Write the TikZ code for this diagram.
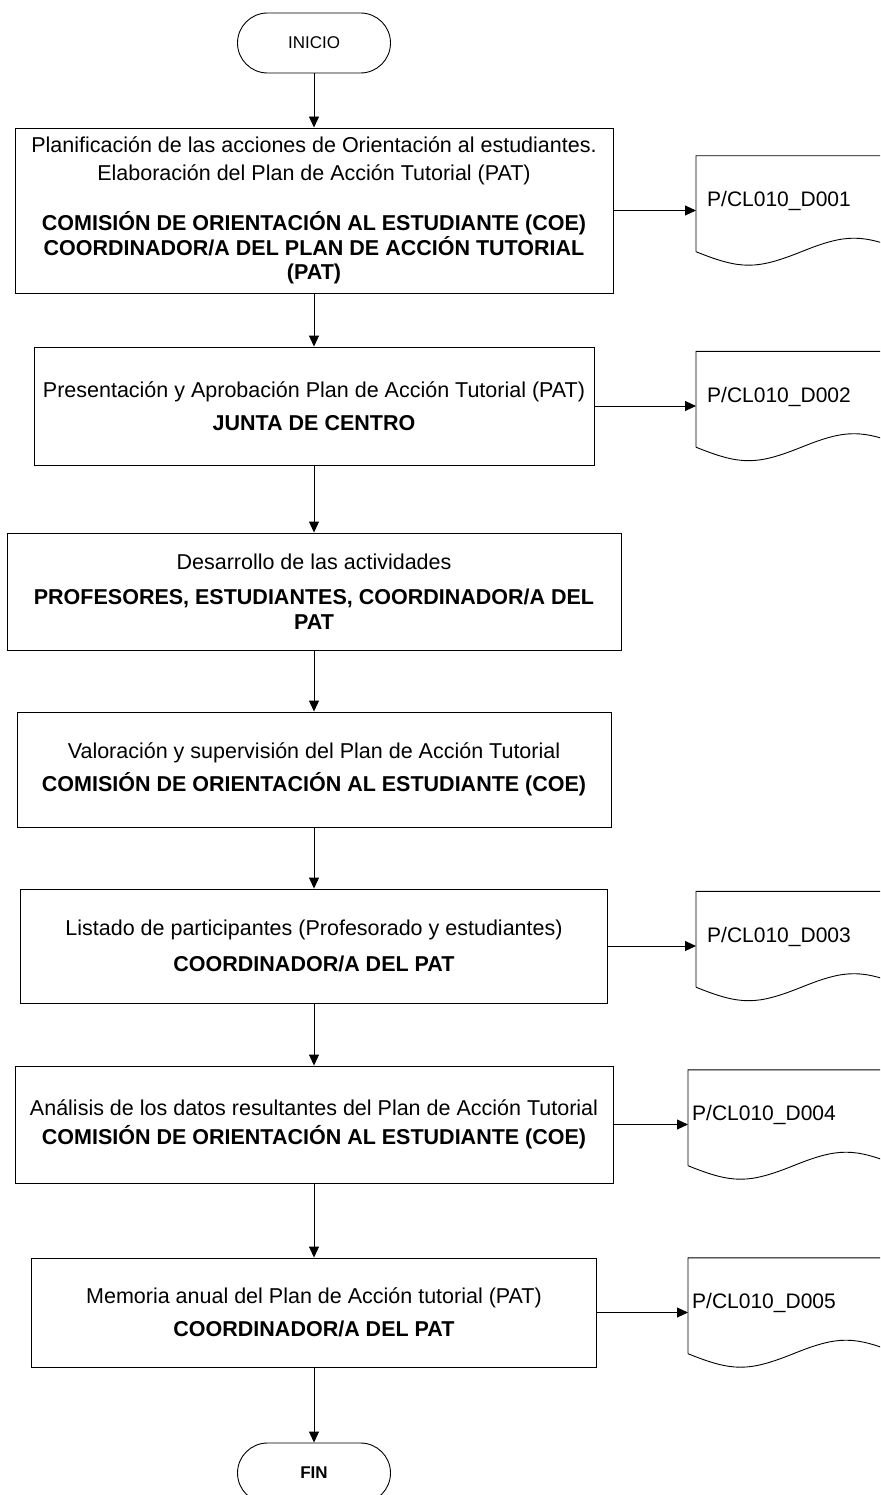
\documentclass[tikz,border=0pt]{standalone}
\usepackage{fontspec}
\setmainfont{Liberation Sans}
\usetikzlibrary{arrows.meta}
\newcommand\docoutline[1]{%
  \draw[line] ([yshift=13.5pt]#1.south west) -- (#1.north west) -- (#1.north east) -- ([yshift=13.5pt]#1.south east)
    .. controls ([xshift=-44.6pt,yshift=31.5pt]#1.south east) and ([xshift=-60.4pt,yshift=31.5pt]#1.south east) .. ([xshift=-105pt,yshift=13.5pt]#1.south east)
    .. controls ([xshift=60.4pt,yshift=-4.5pt]#1.south west) and ([xshift=44.6pt,yshift=-4.5pt]#1.south west) .. ([yshift=13.5pt]#1.south west);}
\begin{document}
\begin{tikzpicture}[x=1pt,y=-1pt,
  line/.style={draw=black, line width=0.9pt},
  arr/.style={line, -{Triangle[length=11pt,width=10pt]}},
  term/.style={draw, line width=0.9pt, rounded corners=30pt, minimum width=153pt, minimum height=60pt, inner sep=0pt, font=\fontsize{17}{20}\selectfont},
  proc/.style={draw, line width=0.9pt, inner sep=0pt, align=center, font=\fontsize{21.5}{24.5}\selectfont},
  docnode/.style={minimum width=210pt, minimum height=109pt, inner sep=0pt, text width=210pt, align=left, anchor=west, font=\fontsize{21}{24}\selectfont},
]
\useasboundingbox (0,0) rectangle (880,1495);
\clip (0,0) rectangle (880,1495);

\node[term] (ini) at (314,43) {INICIO};

\node[proc, minimum width=598pt, minimum height=165pt] (b1) at (314,210.5)
  {Planificación de las acciones de Orientación al estudiantes.\\[3pt]
   Elaboración del Plan de Acción Tutorial (PAT)\\[26pt]
   \textbf{COMISIÓN DE ORIENTACIÓN AL ESTUDIANTE (COE)}\\
   \textbf{COORDINADOR/A DEL PLAN DE ACCIÓN TUTORIAL}\\
   \textbf{(PAT)}};

\node[proc, minimum width=560pt, minimum height=118pt] (b2) at (314,406)
  {Presentación y Aprobación Plan de Acción Tutorial (PAT)\\[8pt]
   \textbf{JUNTA DE CENTRO}};

\node[proc, minimum width=614pt, minimum height=117pt] (b3) at (314,591.5)
  {Desarrollo de las actividades\\[11pt]
   \textbf{PROFESORES, ESTUDIANTES, COORDINADOR/A DEL}\\
   \textbf{PAT}};

\node[proc, minimum width=594pt, minimum height=115pt] (b4) at (314,769.5)
  {Valoración y supervisión del Plan de Acción Tutorial\\[8pt]
   \textbf{COMISIÓN DE ORIENTACIÓN AL ESTUDIANTE (COE)}};

\node[proc, minimum width=587pt, minimum height=114pt] (b5) at (314,946)
  {Listado de participantes (Profesorado y estudiantes)\\[11pt]
   \textbf{COORDINADOR/A DEL PAT}};

\node[proc, minimum width=598pt, minimum height=117pt] (b6) at (314,1124.5)
  {Análisis de los datos resultantes del Plan de Acción Tutorial\\[4pt]
   \textbf{COMISIÓN DE ORIENTACIÓN AL ESTUDIANTE (COE)}};

\node[proc, minimum width=565pt, minimum height=109pt] (b7) at (314,1312.5)
  {Memoria anual del Plan de Acción tutorial (PAT)\\[8pt]
   \textbf{COORDINADOR/A DEL PAT}};

\node[term] (fin) at (314,1473) {\textbf{FIN}};

% documents
\node[docnode] (d1) at (696,210.5) {\hspace*{11pt}\raisebox{4pt}[0pt][0pt]{P/CL010\_D001}};
\node[docnode] (d2) at (696,406) {\hspace*{11pt}\raisebox{4pt}[0pt][0pt]{P/CL010\_D002}};
\node[docnode] (d3) at (696,946) {\hspace*{11pt}\raisebox{4pt}[0pt][0pt]{P/CL010\_D003}};
\node[docnode] (d4) at (688,1124.5) {\hspace*{4pt}\raisebox{4pt}[0pt][0pt]{P/CL010\_D004}};
\node[docnode] (d5) at (688,1312.5) {\hspace*{4pt}\raisebox{4pt}[0pt][0pt]{P/CL010\_D005}};
\docoutline{d1}
\docoutline{d2}
\docoutline{d3}
\docoutline{d4}
\docoutline{d5}

% connectors
\draw[arr] (ini.south) -- (b1.north);
\draw[arr] (b1.south) -- (b2.north);
\draw[arr] (b2.south) -- (b3.north);
\draw[arr] (b3.south) -- (b4.north);
\draw[arr] (b4.south) -- (b5.north);
\draw[arr] (b5.south) -- (b6.north);
\draw[arr] (b6.south) -- (b7.north);
\draw[arr] (b7.south) -- (fin.north);

\draw[arr] (b1.east) -- (d1.west);
\draw[arr] (b2.east) -- (d2.west);
\draw[arr] (b5.east) -- (d3.west);
\draw[arr] (b6.east) -- (d4.west);
\draw[arr] (b7.east) -- (d5.west);
\end{tikzpicture}
\end{document}
